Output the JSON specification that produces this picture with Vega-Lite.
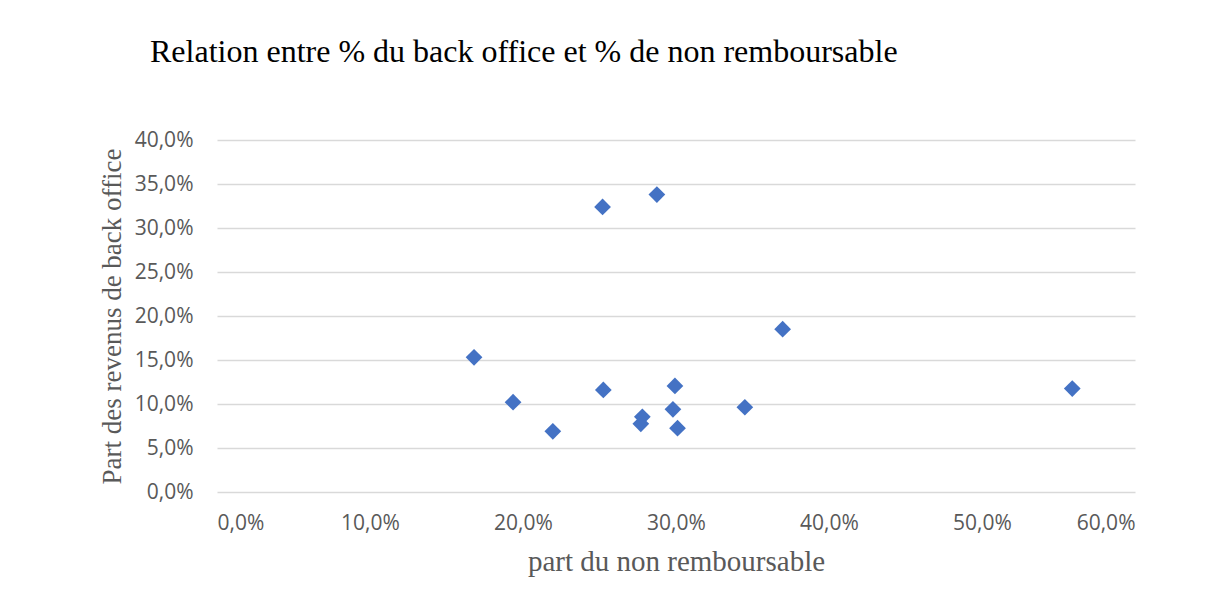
{
  "$schema": "https://vega.github.io/schema/vega-lite/v6.json",
  "autosize": "none",
  "width": 918,
  "height": 352,
  "padding": {"left": 217, "top": 140, "right": 73, "bottom": 107},
  "background": "white",
  "title": {
    "text": "Relation entre % du back office et % de non remboursable",
    "anchor": "start",
    "frame": "group",
    "font": "Liberation Serif",
    "fontSize": 32,
    "fontWeight": "normal",
    "color": "#000000",
    "dx": -67,
    "offset": 60
  },
  "data": {
    "values": [
      {"nonremb": 16.8, "backoffice": 15.3},
      {"nonremb": 19.35, "backoffice": 10.2},
      {"nonremb": 21.95, "backoffice": 6.9},
      {"nonremb": 25.2, "backoffice": 32.4},
      {"nonremb": 25.25, "backoffice": 11.6},
      {"nonremb": 28.75, "backoffice": 33.8},
      {"nonremb": 27.7, "backoffice": 7.75},
      {"nonremb": 27.8, "backoffice": 8.55},
      {"nonremb": 29.8, "backoffice": 9.4},
      {"nonremb": 29.93, "backoffice": 12.05},
      {"nonremb": 30.1, "backoffice": 7.25},
      {"nonremb": 34.5, "backoffice": 9.63},
      {"nonremb": 36.97, "backoffice": 18.5},
      {"nonremb": 55.9, "backoffice": 11.75}
    ]
  },
  "mark": {"type": "point", "shape": "diamond", "filled": true, "size": 280, "color": "#4472C4", "opacity": 1},
  "encoding": {
    "x": {
      "field": "nonremb",
      "type": "quantitative",
      "scale": {"domain": [0, 60], "nice": false, "zero": true},
      "axis": {
        "title": "part du non remboursable",
        "values": [0, 10, 20, 30, 40, 50, 60],
        "labelExpr": "replace(format(datum.value, '.1f'), '.', ',') + '%'",
        "grid": false,
        "domain": false,
        "ticks": false,
        "labelFont": "Open Sans",
        "labelFontSize": 21,
        "labelColor": "#595959",
        "labelPadding": 20,
        "titleFont": "Liberation Serif",
        "titleFontSize": 29,
        "titleFontWeight": "normal",
        "titleColor": "#595959",
        "titlePadding": 14
      }
    },
    "y": {
      "field": "backoffice",
      "type": "quantitative",
      "scale": {"domain": [0, 40], "nice": false, "zero": true},
      "axis": {
        "title": "Part des revenus de back office",
        "values": [0, 5, 10, 15, 20, 25, 30, 35, 40],
        "labelExpr": "replace(format(datum.value, '.1f'), '.', ',') + '%'",
        "grid": true,
        "gridColor": "#d9d9d9",
        "gridWidth": 1.3,
        "domain": false,
        "ticks": false,
        "labelFont": "Open Sans",
        "labelFontSize": 21,
        "labelColor": "#595959",
        "labelPadding": 24,
        "titleFont": "Liberation Serif",
        "titleFontSize": 27,
        "titleFontWeight": "normal",
        "titleColor": "#595959",
        "titlePadding": 8
      }
    }
  },
  "config": {"view": {"stroke": null}}
}
